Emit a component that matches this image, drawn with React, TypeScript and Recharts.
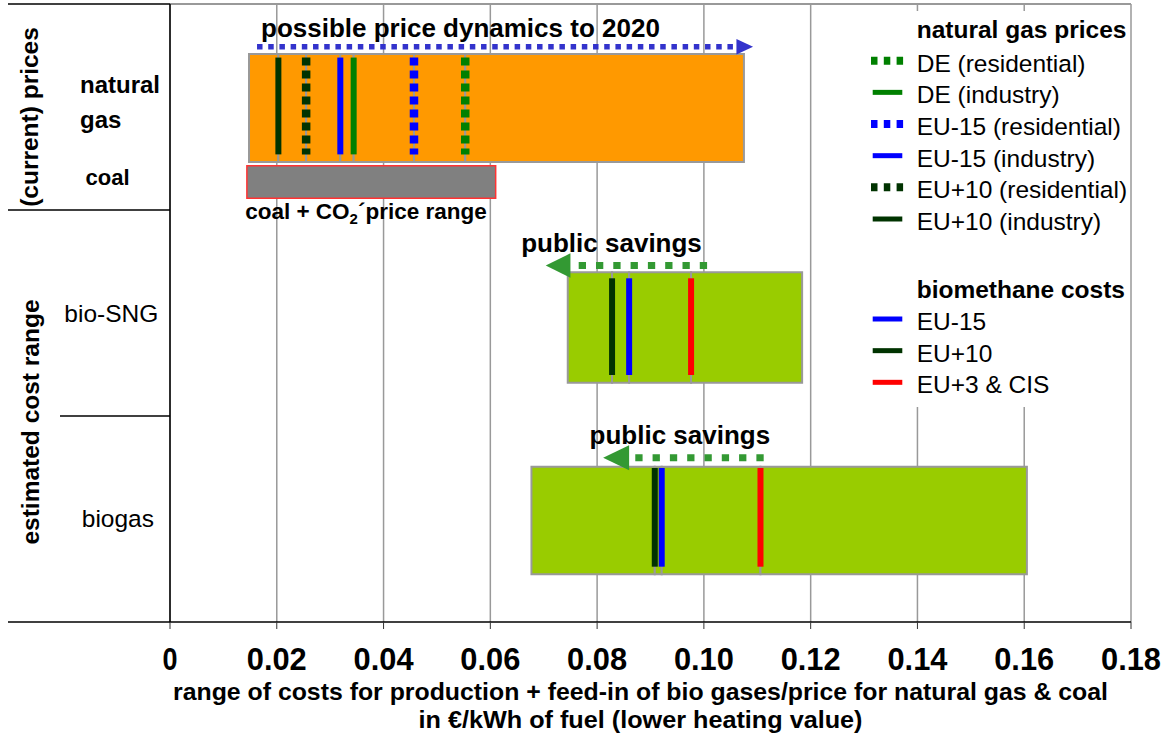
import React from 'react';
import {
  ComposedChart,
  XAxis,
  YAxis,
  CartesianGrid,
  ReferenceArea,
  ReferenceLine,
  ReferenceDot,
  Scatter,
  Legend,
} from 'recharts';

const FONT = '"Liberation Sans", Arial, sans-serif';

// x axis, EUR per kWh
const xTicks = [0, 0.02, 0.04, 0.06, 0.08, 0.1, 0.12, 0.14, 0.16, 0.18];
const xTickLabels = ['0', '0.02', '0.04', '0.06', '0.08', '0.10', '0.12', '0.14', '0.16', '0.18'];
const xTitle = [
  'range of costs for production + feed-in of bio gases/price for natural gas & coal',
  'in €/kWh of fuel (lower heating value)',
];

// left side labels
const groupLabels = ['(current) prices', 'estimated cost range'];
const rowLabels = ['natural', 'gas', 'coal', 'bio-SNG', 'biogas'];

// ranges [min, max]
const naturalGasRange = [0.0148, 0.1075];
const coalRange = [0.0144, 0.061];
const bioSngRange = [0.0745, 0.1184];
const biogasRange = [0.0677, 0.1605];

// natural gas prices
const gasPriceTitle = 'natural gas prices';
const gasPriceNames = [
  'DE (residential)',
  'DE (industry)',
  'EU-15 (residential)',
  'EU-15 (industry)',
  'EU+10 (residential)',
  'EU+10 (industry)',
];
const gasPrices = [0.0553, 0.0344, 0.0457, 0.0319, 0.0255, 0.0203];

// biomethane costs
const bioCostTitle = 'biomethane costs';
const bioCostNames = ['EU-15', 'EU+10', 'EU+3 & CIS'];
const bioSngCosts = [0.086, 0.0828, 0.0976];
const biogasCosts = [0.0921, 0.0908, 0.1106];

// arrows [start of dots, end of dots]
const priceDynamics = [0.0163, 0.1061];
const bioSngSavings = [0.1006, 0.075];
const biogasSavings = [0.1112, 0.086];
const priceDynamicsText = 'possible price dynamics to 2020';
const savingsText = 'public savings';
const coalText = 'coal + CO';

const gasStyles = [
  { color: '#008000', dotted: true },
  { color: '#008000', dotted: false },
  { color: '#0000ff', dotted: true },
  { color: '#0000ff', dotted: false },
  { color: '#003300', dotted: true },
  { color: '#003300', dotted: false },
];
const bioColors = ['#0000ff', '#003300', '#ff0000'];

// vertical layout in y units (0 = top, 6 = bottom)
const ROW = {
  gas: { box: [0.485, 1.534], mark: [0.52, 1.46] },
  coal: { box: [1.57, 1.886] },
  sng: { box: [2.605, 3.677], mark: [2.663, 3.602], arrow: 2.539 },
  biogas: { box: [4.492, 5.537], mark: [4.505, 5.463], arrow: 4.406 },
  priceArrow: 0.415,
};

// arrow heads sit at the end of each dotted line
const arrowHeads = [
  { x: priceDynamics[1], y: ROW.priceArrow },
  { x: bioSngSavings[1], y: ROW.sng.arrow },
  { x: biogasSavings[1], y: ROW.biogas.arrow },
];
const HEAD_STYLE = [
  { dir: 1, w: 16.6, h: 15.7, color: '#3333cc' },
  { dir: -1, w: 24.7, h: 24.3, color: '#339933' },
  { dir: -1, w: 26, h: 25, color: '#339933' },
];

const PLOT_LEFT = 170;

function boxSegments(key: string, range: number[], cuts: number[], ys: number[], fill: string) {
  const edges = [range[0], ...[...cuts].sort((a, b) => a - b), range[1]];
  return edges.slice(1).map((e, i) => (
    <ReferenceArea
      key={`${key}-${i}`}
      x1={edges[i]}
      x2={e}
      y1={ys[0]}
      y2={ys[1]}
      fill={fill}
      fillOpacity={1}
      stroke="#999999"
      strokeWidth={2}
    />
  ));
}

function mark(key: string, v: number, ys: number[], color: string, dotted: boolean) {
  return (
    <ReferenceLine
      key={key}
      segment={[{ x: v, y: ys[0] }, { x: v, y: ys[1] }]}
      stroke={color}
      strokeWidth={dotted ? 8.5 : 6}
      strokeDasharray={dotted ? '8 5' : undefined}
    />
  );
}

const ArrowHead = (p: any) => {
  const s = HEAD_STYLE[p.index] || HEAD_STYLE[0];
  return (
    <polygon
      points={`${p.cx},${p.cy - s.h / 2} ${p.cx + s.dir * s.w},${p.cy} ${p.cx},${p.cy + s.h / 2}`}
      fill={s.color}
    />
  );
};

const label = (text: string, dy: number) => (p: any) => (
  <text x={p.cx} y={p.cy + dy} textAnchor="middle" fontFamily={FONT} fontWeight="bold" fontSize={26} fill="#000">
    {text}
  </text>
);

const coalLabel = (p: any) => (
  <text x={p.cx} y={p.cy + 21} textAnchor="middle" fontFamily={FONT} fontWeight="bold" fontSize={22.5} fill="#000">
    {coalText}
    <tspan fontSize={15} dy={5}>2</tspan>
    <tspan dy={-5}>´price range</tspan>
  </text>
);

const LeftTick = (p: any) => {
  const v = p.payload.value;
  const y = p.y;
  const line = (x1: number) => (
    <line x1={x1} x2={PLOT_LEFT} y1={y} y2={y} stroke="#000" strokeWidth={1.5} />
  );
  const bold = { fontFamily: FONT, fontWeight: 'bold' as const, fill: '#000' };
  if (v === 0 || v === 2 || v === 6) return <g>{line(8)}</g>;
  if (v === 4)
    return (
      <g>
        {line(60)}
        <text x={38.5} y={y + 6} transform={`rotate(-90, 38.5, ${y + 6})`} textAnchor="middle" fontSize={24.5} {...bold}>
          {groupLabels[1]}
        </text>
      </g>
    );
  if (v === 1)
    return (
      <g>
        <text x={37.6} y={y + 10} transform={`rotate(-90, 37.6, ${y + 10})`} textAnchor="middle" fontSize={24.5} {...bold}>
          {groupLabels[0]}
        </text>
        <text x={80} y={y - 14.3} fontSize={24} {...bold}>{rowLabels[0]}</text>
        <text x={80} y={y + 21} fontSize={24} {...bold}>{rowLabels[1]}</text>
      </g>
    );
  if (v === 1.728)
    return <text x={107.5} y={y + 3} textAnchor="middle" fontSize={22} {...bold}>{rowLabels[2]}</text>;
  if (v === 3)
    return <text x={158.3} y={y + 8.7} textAnchor="end" fontSize={24.5} fontFamily={FONT} fill="#000">{rowLabels[3]}</text>;
  if (v === 5)
    return <text x={154} y={y + 8} textAnchor="end" fontSize={24.5} fontFamily={FONT} fill="#000">{rowLabels[4]}</text>;
  return null;
};

const BottomTick = (p: any) => {
  const t = xTickLabels[xTicks.indexOf(p.payload.value)];
  return (
    <text
      x={p.x}
      y={p.y + 39}
      textAnchor="middle"
      fontFamily={FONT}
      fontWeight="bold"
      fontSize={32}
      textLength={t.length === 1 ? 15 : 60}
      lengthAdjust="spacingAndGlyphs"
      fill="#000"
    >
      {t}
    </text>
  );
};

const XTitle = (p: any) => {
  const vb = p.viewBox;
  const cx = vb.x + vb.width / 2 - 10;
  return (
    <g fontFamily={FONT} fontWeight="bold" fontSize={24} fill="#000" textAnchor="middle">
      <text x={cx} y={vb.y + 78} textLength={935} lengthAdjust="spacingAndGlyphs">{xTitle[0]}</text>
      <text x={cx} y={vb.y + 106} textLength={444} lengthAdjust="spacingAndGlyphs">{xTitle[1]}</text>
    </g>
  );
};

const LegendBox = () => {
  const step = 31.66;
  const sym = (y: number, color: string, dotted: boolean) =>
    dotted ? (
      <line x1={9} x2={41.5} y1={y} y2={y} stroke={color} strokeWidth={8} strokeDasharray="6.5 6.3" />
    ) : (
      <line x1={10.7} x2={40.3} y1={y} y2={y} stroke={color} strokeWidth={5} />
    );
  return (
    <svg width={268} height={396} style={{ display: 'block', fontFamily: FONT }}>
      <text x={54.7} y={27.3} fontSize={24.5} fontWeight="bold">{gasPriceTitle}</text>
      {gasPriceNames.map((n, i) => (
        <g key={n}>
          {sym(60.7 + i * step - 11, gasStyles[i].color, gasStyles[i].dotted)}
          <text x={54.7} y={60.7 + i * step} fontSize={24.5}>{n}</text>
        </g>
      ))}
      <text x={54.7} y={286.7} fontSize={24.5} fontWeight="bold">{bioCostTitle}</text>
      {bioCostNames.map((n, i) => (
        <g key={n}>
          {sym(319 + i * step - 11, bioColors[i], false)}
          <text x={54.7} y={319 + i * step} fontSize={24.5}>{n}</text>
        </g>
      ))}
    </svg>
  );
};

export default function App() {
  return (
    <div style={{ position: 'absolute', left: 0, top: 0, background: '#fff' }}>
      <ComposedChart width={1168} height={740} margin={{ top: 4, right: 37, bottom: 0, left: 8 }}>
        <CartesianGrid horizontal={false} stroke="#999999" strokeWidth={1.5} />
        <XAxis
          type="number"
          dataKey="x"
          domain={[0, 0.18]}
          ticks={xTicks}
          interval={0}
          height={118}
          axisLine={{ stroke: '#000', strokeWidth: 1.5 }}
          tickLine={{ stroke: '#333' }}
          tickSize={7}
          tick={<BottomTick />}
          label={{ content: <XTitle /> }}
        />
        <YAxis
          type="number"
          dataKey="y"
          domain={[0, 6]}
          reversed
          ticks={[0, 1, 1.728, 2, 3, 4, 5, 6]}
          interval={0}
          width={162}
          axisLine={{ stroke: '#000', strokeWidth: 1.5 }}
          tickLine={false}
          tick={<LeftTick />}
        />
        <ReferenceLine y={0} stroke="#999999" strokeWidth={2} />

        {boxSegments('gas', naturalGasRange, gasPrices, ROW.gas.box, '#ff9900')}
        <ReferenceArea
          x1={coalRange[0]}
          x2={coalRange[1]}
          y1={ROW.coal.box[0]}
          y2={ROW.coal.box[1]}
          fill="#808080"
          fillOpacity={1}
          stroke="#ff3333"
          strokeWidth={1.5}
        />
        {boxSegments('sng', bioSngRange, bioSngCosts, ROW.sng.box, '#99cc00')}
        {boxSegments('biogas', biogasRange, biogasCosts, ROW.biogas.box, '#99cc00')}

        {gasPrices.map((v, i) => mark(`g${i}`, v, ROW.gas.mark, gasStyles[i].color, gasStyles[i].dotted))}
        {bioSngCosts.map((v, i) => mark(`s${i}`, v, ROW.sng.mark, bioColors[i], false))}
        {biogasCosts.map((v, i) => mark(`b${i}`, v, ROW.biogas.mark, bioColors[i], false))}

        <ReferenceLine
          segment={[{ x: priceDynamics[0], y: ROW.priceArrow }, { x: priceDynamics[1], y: ROW.priceArrow }]}
          stroke="#3333cc"
          strokeWidth={5.5}
          strokeDasharray="5.5 5.7"
        />
        <ReferenceLine
          segment={[{ x: bioSngSavings[0], y: ROW.sng.arrow }, { x: bioSngSavings[1], y: ROW.sng.arrow }]}
          stroke="#339933"
          strokeWidth={7}
          strokeDasharray="7.3 10"
        />
        <ReferenceLine
          segment={[{ x: biogasSavings[0], y: ROW.biogas.arrow }, { x: biogasSavings[1], y: ROW.biogas.arrow }]}
          stroke="#339933"
          strokeWidth={7}
          strokeDasharray="7.3 10"
        />
        <Scatter data={arrowHeads} dataKey="y" shape={<ArrowHead />} isAnimationActive={false} legendType="none" />

        <ReferenceDot x={0.0544} y={ROW.priceArrow} shape={label(priceDynamicsText, -10)} />
        <ReferenceDot x={0.0827} y={ROW.sng.arrow} shape={label(savingsText, -14)} />
        <ReferenceDot x={0.0955} y={ROW.biogas.arrow} shape={label(savingsText, -14)} />
        <ReferenceDot x={0.0367} y={ROW.coal.box[1]} shape={coalLabel} />

        <Legend
          layout="vertical"
          align="center"
          verticalAlign="middle"
          content={<LegendBox />}
          wrapperStyle={{ position: 'absolute', left: 862, top: 11, width: 268, height: 396, background: '#fff' }}
        />
      </ComposedChart>
    </div>
  );
}
